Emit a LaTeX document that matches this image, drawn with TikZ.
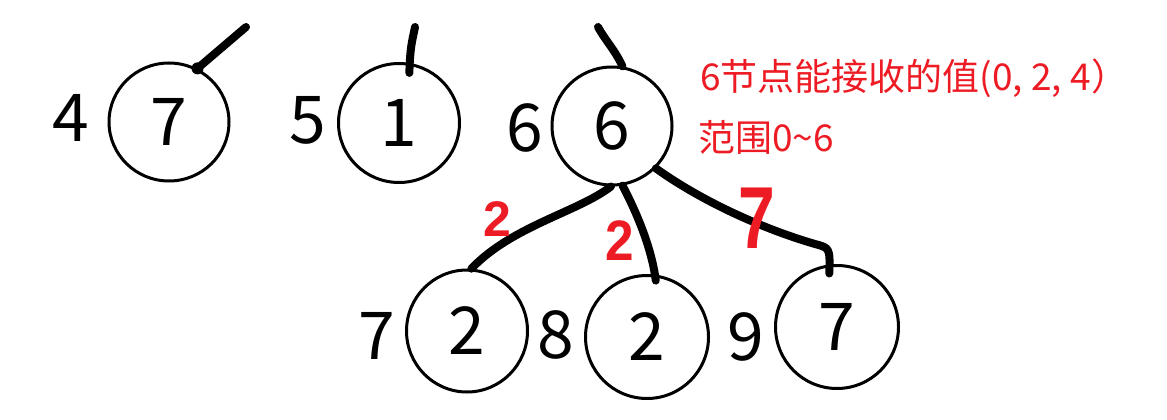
\documentclass[tikz,border=0pt]{standalone}
\usepackage{fontspec}
\setmainfont{Noto Sans CJK SC}
\newfontfamily\handfont{Liberation Sans}
\usetikzlibrary{shapes.geometric,calc}
\definecolor{pred}{RGB}{237,28,36}
\begin{document}
\begin{tikzpicture}[x=1pt,y=-1pt,
  vnode/.style={ellipse,draw,line width=3pt,inner sep=0pt,font=\fontsize{66}{66}\selectfont},
  idx/.style={anchor=base,inner sep=0pt,font=\fontsize{66}{66}\selectfont},
  edge/.style={line width=8pt,line cap=round,line join=round},
  wlab/.style={text=pred,inner sep=0pt},
  note/.style={text=pred,anchor=base west,inner sep=0pt,font=\fontsize{37}{37}\selectfont}]
\useasboundingbox (0,0) rectangle (1167,420);
% value nodes
\node[vnode,minimum width=120pt,minimum height=118pt] (n4) at (169,122) {7};
\node[vnode,minimum width=121pt,minimum height=119pt] (n5) at (399,123) {1};
\node[vnode,minimum width=120pt,minimum height=118pt] (n6) at (612,126) {6};
\node[vnode,minimum width=121pt,minimum height=122pt] (a) at (467,331) {2};
\node[vnode,minimum width=123pt,minimum height=123pt] (b) at (647,337) {2};
\node[vnode,minimum width=123pt,minimum height=123pt] (c) at (837,327) {7};
% index labels
\node[idx] (l4) at (71,141) {4};
\node[idx] (l5) at (308,143) {5};
\node[idx] (l6) at (525,151) {6};
\node[idx] (l7) at (377,359) {7};
\node[idx] (l8) at (556,358) {8};
\node[idx] (l9) at (746,360) {9};
% edges to parents (cut off)
\coordinate (t4) at (246,27);
\coordinate (t5) at (415,27);
\coordinate (t6) at (598,27);
\draw[edge] (n4.62) -- (t4);
\fill (n4.62) circle (6pt);
\draw[edge,shorten <=-10pt] (n5.80) .. controls (410,45) and (413,38) .. (t5);
\draw[edge] (n6.80) .. controls (615,50) and (605,40) .. (t6);
% edges to children
\draw[edge] (n6.-91) .. controls (578,212) and (512,226) .. (a.86);
\draw[edge] (n6.-80) .. controls (638,215) and (652,250) .. ($(b.82)+(0,6)$);
\draw[edge] (n6.-44) .. controls (700,200) and (760,228) .. (815,244) .. controls (830,248) .. ($(c.97)+(0,9)$);
% weights
\node[wlab,font=\handfont\bfseries\fontsize{50}{50}\selectfont] (w1) at (497,219) {2};
\node[wlab,font=\handfont\bfseries\fontsize{57}{57}\selectfont,xscale=0.9] (w2) at (620,241) {2};
\node[wlab,font=\handfont\bfseries\fontsize{88}{88}\selectfont,xscale=0.75] (w3) at (757,218) {7};
% notes
\node[note] (t1) at (700,90) {6节点能接收的值(0, 2, 4）};
\node[note] (t2) at (698,151) {范围0\textasciitilde 6};
\end{tikzpicture}
\end{document}
